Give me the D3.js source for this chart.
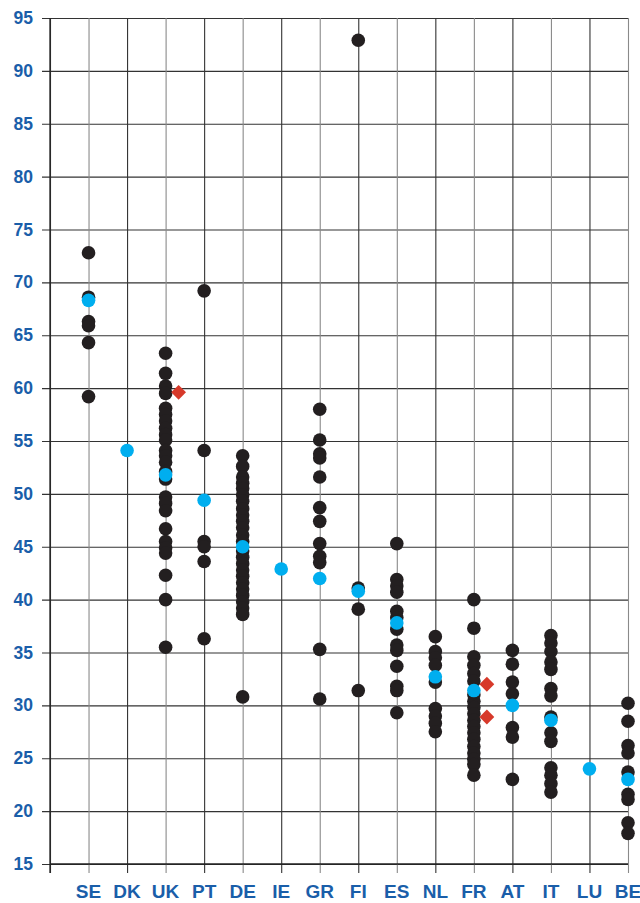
<!DOCTYPE html>
<html>
<head>
<meta charset="utf-8">
<script src="https://cdn.jsdelivr.net/npm/d3@7"></script>
<style>
  html, body { margin: 0; padding: 0; background: #fff; }
  svg { display: block; }
  .lbl { font-family: "Liberation Sans", Arial, sans-serif; font-weight: bold; fill: #1a5ea9; }
</style>
</head>
<body>
<svg id="chart" width="640" height="903"></svg>
<script>
// Countries in display order
const categories = ["SE", "DK", "UK", "PT", "DE", "IE", "GR", "FI", "ES", "NL", "FR", "AT", "IT", "LU", "BE"];

// Individual observations per country (black dots)
const observations = [
  [72.8, 68.6, 66.3, 65.9, 64.3, 59.2],
  [],
  [63.3, 61.4, 60.2, 59.5, 58.1, 57.5, 56.9, 56.2, 55.6, 55.1, 54.1, 53.6, 53.0, 52.1, 51.4, 49.7, 49.1, 48.4, 46.7, 45.5, 44.9, 44.4, 42.3, 40.0, 35.5],
  [69.2, 54.1, 45.5, 45.0, 43.6, 36.3],
  [53.6, 52.6, 51.6, 51.0, 50.5, 49.9, 49.3, 48.6, 48.0, 47.4, 46.8, 46.1, 45.5, 44.6, 44.0, 43.4, 42.8, 42.2, 41.6, 41.0, 40.4, 39.8, 39.2, 38.6, 30.8],
  [],
  [58.0, 55.1, 53.8, 53.4, 51.6, 48.7, 47.4, 45.3, 44.1, 43.5, 35.3, 30.6],
  [92.9, 41.1, 39.1, 31.4],
  [45.3, 41.9, 41.3, 40.7, 38.9, 38.3, 37.2, 35.7, 35.2, 33.7, 31.8, 31.4, 29.3],
  [36.5, 35.1, 34.5, 33.8, 32.2, 29.7, 29.0, 28.3, 27.5],
  [40.0, 37.3, 34.6, 33.8, 33.0, 32.3, 31.0, 30.4, 29.8, 29.2, 28.6, 28.0, 27.4, 26.8, 26.1, 25.5, 24.9, 24.4, 23.4],
  [35.2, 33.9, 32.2, 31.1, 27.9, 27.0, 23.0],
  [36.6, 35.9, 35.1, 34.1, 33.4, 31.6, 30.9, 28.9, 27.4, 26.6, 24.1, 23.4, 22.6, 21.8],
  [],
  [30.2, 28.5, 26.2, 25.5, 23.7, 21.6, 21.1, 18.9, 17.9]
];

// Country averages (blue dots)
const averages = [68.3, 54.1, 51.8, 49.4, 45.0, 42.9, 42.0, 40.8, 37.8, 32.7, 31.4, 30.0, 28.6, 24.0, 23.0];

// Highlighted points (red diamonds)
const markedCountries = ["UK", "FR", "FR"];
const markedValues = [59.6, 32.0, 28.9];

// Y-axis tick values
const yTicks = [15, 20, 25, 30, 35, 40, 45, 50, 55, 60, 65, 70, 75, 80, 85, 90, 95];

const width = 640, height = 903;
const margin = { top: 18, right: 12, bottom: 39, left: 50 };
const innerW = width - margin.left - margin.right;
const innerH = height - margin.top - margin.bottom;

const svg = d3.select("#chart");
const g = svg.append("g").attr("transform", `translate(${margin.left},${margin.top})`);

// Each country sits at the right edge of its slot
const xIdx = d3.scaleLinear().domain([0, categories.length]).range([0, innerW]);
const x = c => xIdx(categories.indexOf(c) + 1);
const y = d3.scaleLinear().domain([15, 95]).range([innerH, 0]);

// Horizontal grid lines with short ticks to the left
const yAxis = d3.axisLeft(y).tickValues(yTicks).tickSize(-innerW).tickSizeOuter(0).tickFormat("");
const ya = g.append("g").call(yAxis);
ya.select(".domain").remove();
ya.selectAll(".tick line").attr("x1", -8).attr("stroke", "#333").attr("stroke-width", 1.1);

// Vertical grid lines at each country, extending below the baseline as ticks
const xAxis = d3.axisBottom(xIdx).tickValues(d3.range(0, categories.length + 1)).tickSize(9).tickFormat("");
const xa = g.append("g").attr("transform", `translate(0,${innerH})`).call(xAxis);
xa.select(".domain").remove();
xa.selectAll(".tick line")
  .attr("y1", -innerH)
  .attr("y2", 9)
  .attr("stroke", (d, i) => (i % 2 === 1 ? "#8a8a8a" : "#333"))
  .attr("stroke-width", 1.1);

// Left axis and baseline
g.append("line").attr("x1", 0).attr("x2", 0).attr("y1", 0).attr("y2", innerH + 9).attr("stroke", "#222").attr("stroke-width", 1.3);
g.append("line").attr("x1", 0).attr("x2", innerW).attr("y1", innerH).attr("y2", innerH).attr("stroke", "#222").attr("stroke-width", 1.3);

// Y tick labels
g.append("g").selectAll("text").data(yTicks).join("text")
  .attr("class", "lbl")
  .style("font-size", "17.5px")
  .attr("x", -17)
  .attr("y", d => y(d) + 6)
  .attr("text-anchor", "end")
  .text(d => d);

// Country labels
g.append("g").selectAll("text").data(categories).join("text")
  .attr("class", "lbl")
  .style("font-size", "19px")
  .attr("x", d => x(d))
  .attr("y", innerH + 34)
  .attr("text-anchor", "middle")
  .text(d => d);

// Observations
const pts = categories.flatMap((c, i) => observations[i].map(v => ({ c, v })));
g.append("g").selectAll("circle").data(pts).join("circle")
  .attr("cx", d => x(d.c))
  .attr("cy", d => y(d.v))
  .attr("r", 6.8)
  .attr("fill", "#231f20");

// Averages
g.append("g").selectAll("circle").data(categories).join("circle")
  .attr("cx", d => x(d))
  .attr("cy", (d, i) => y(averages[i]))
  .attr("r", 6.8)
  .attr("fill", "#00aeef");

// Highlighted diamonds, offset to the right of the column
const diamond = d3.symbol().type(d3.symbolDiamond2).size(140);
g.append("g").selectAll("path").data(markedValues).join("path")
  .attr("d", diamond)
  .attr("transform", (d, i) => `translate(${x(markedCountries[i]) + 13},${y(d)})`)
  .attr("fill", "#d7392a");
</script>
</body>
</html>
